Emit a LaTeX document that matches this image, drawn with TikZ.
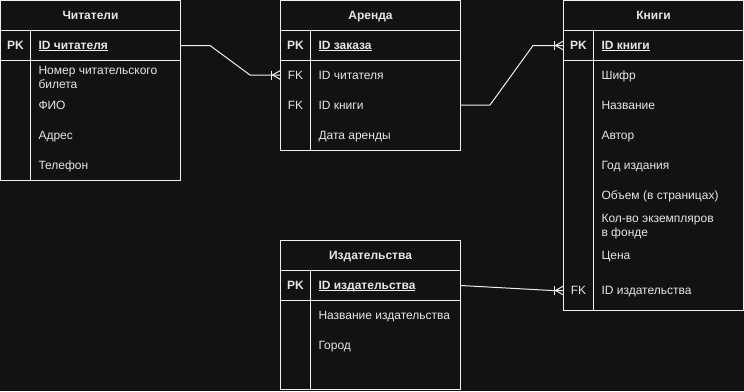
\documentclass[tikz,border=0pt]{standalone}
\usepackage{fontspec}
\setmainfont{Liberation Sans}
\definecolor{bg}{HTML}{121212}
\definecolor{ln}{HTML}{F0F0F0}
\definecolor{tx}{HTML}{E6E6E6}
\newcommand\erfont{\fontsize{12}{14}\selectfont}
\begin{document}
\begin{tikzpicture}[x=1pt,y=-1pt,
  every node/.style={inner sep=0pt, outer sep=0pt, text=tx, font=\erfont},
  box/.style={draw=ln, line width=1pt, rectangle, minimum width=180pt},
  hdr/.style={box, minimum height=30pt, font=\erfont\bfseries, text height=8.6pt, text depth=0pt},
  keyrow/.style={box, minimum height=30pt},
  slot/.style={rectangle, minimum width=180pt, minimum height=30pt},
  lbl/.style={anchor=west, text height=8.6pt, text depth=0pt},
  pklbl/.style={lbl, font=\erfont\bfseries},
  % two-line fields: the base anchor sits on the last line's baseline
  multi/.style={anchor=base west, align=left},
  keytag/.style={text height=8.6pt, text depth=0pt},
  pktag/.style={keytag, font=\erfont\bfseries},
  sep/.style={draw=ln, line width=1pt},
  conn/.style={draw=ln, line width=1pt},
  uline/.style={draw=ln, line width=0.9pt},
  crowmany/.pic={
    \draw[conn] (-9,-4.5) -- (-9,4.5);
    \draw[conn] (0,-4.5) -- (-8,0) -- (0,4.5);
  }
]
\fill[bg] (0,0) rectangle (744,391);
\useasboundingbox (0,0) rectangle (744,391);

% ---------- Читатели ----------
\node[hdr] (rd) at (90.5,15.5) {Читатели};
\node[keyrow] (rd-pk) at (90.5,45.5) {};
\node[box, minimum height=120pt] (rd-body) at (90.5,120.5) {};
\draw[sep] ([xshift=30pt]rd-pk.north west) -- ([xshift=30pt]rd-body.south west);
\node[pktag] (rd-k) at (15.5,45) {PK};
\node[pklbl] (rd-id) at (38.5,45) {ID читателя};
\draw[uline] ([yshift=-1.5pt]rd-id.base west) -- ([yshift=-1.5pt]rd-id.base east);
\node[multi] (rd-f1) at (38.5,88.3) {Номер читательского\\билета};
\node[lbl] (rd-f2) at (38.5,105) {ФИО};
\node[lbl] (rd-f3) at (38.5,135) {Адрес};
\node[lbl] (rd-f4) at (38.5,165.5) {Телефон};

% ---------- Аренда ----------
\node[hdr] (ar) at (370.5,15.5) {Аренда};
\node[keyrow] (ar-pk) at (370.5,45.5) {};
\node[box, minimum height=90pt] (ar-body) at (370.5,105.5) {};
\draw[sep] ([xshift=30pt]ar-pk.north west) -- ([xshift=30pt]ar-body.south west);
\node[slot] (ar-r1) at (370.5,75) {};
\node[slot] (ar-r2) at (370.5,105) {};
\node[pktag] (ar-k) at (295.5,45) {PK};
\node[pklbl] (ar-id) at (318.5,45) {ID заказа};
\draw[uline] ([yshift=-1.5pt]ar-id.base west) -- ([yshift=-1.5pt]ar-id.base east);
\node[keytag] (ar-k1) at (295.5,75) {FK};
\node[lbl] (ar-f1) at (318.5,75) {ID читателя};
\node[keytag] (ar-k2) at (295.5,105) {FK};
\node[lbl] (ar-f2) at (318.5,105) {ID книги};
\node[lbl] (ar-f3) at (318.5,135) {Дата аренды};

% ---------- Книги ----------
\node[hdr] (bk) at (653.5,15.5) {Книги};
\node[keyrow] (bk-pk) at (653.5,45.5) {};
\node[box, minimum height=250pt] (bk-body) at (653.5,185.5) {};
\draw[sep] ([xshift=30pt]bk-pk.north west) -- ([xshift=30pt]bk-body.south west);
\node[slot] (bk-r8) at (653.5,290.5) {};
\node[pktag] (bk-k) at (578.5,45) {PK};
\node[pklbl] (bk-id) at (601.5,45) {ID книги};
\draw[uline] ([yshift=-1.5pt]bk-id.base west) -- ([yshift=-1.5pt]bk-id.base east);
\node[lbl] (bk-f1) at (601.5,75) {Шифр};
\node[lbl] (bk-f2) at (601.5,105) {Название};
\node[lbl] (bk-f3) at (601.5,135) {Автор};
\node[lbl] (bk-f4) at (601.5,165.5) {Год издания};
\node[lbl] (bk-f5) at (601.5,195.5) {Объем (в страницах)};
\node[multi] (bk-f6) at (601.5,236.6) {Кол-во экземпляров\\в фонде};
\node[lbl] (bk-f7) at (601.5,255.5) {Цена};
\node[keytag] (bk-k8) at (578.5,290.5) {FK};
\node[lbl] (bk-f8) at (601.5,290.5) {ID издательства};

% ---------- Издательства ----------
\node[hdr] (pb) at (370.5,255.5) {Издательства};
\node[keyrow] (pb-pk) at (370.5,285.5) {};
\node[box, minimum height=89pt] (pb-body) at (370.5,345) {};
\draw[sep] ([xshift=30pt]pb-pk.north west) -- ([xshift=30pt]pb-body.south west);
\node[pktag] (pb-k) at (295.5,285) {PK};
\node[pklbl] (pb-id) at (318.5,285) {ID издательства};
\draw[uline] ([yshift=-1.5pt]pb-id.base west) -- ([yshift=-1.5pt]pb-id.base east);
\node[lbl] (pb-f1) at (318.5,315) {Название издательства};
\node[lbl] (pb-f2) at (318.5,345) {Город};

% ---------- связи ----------
\draw[conn] (rd-pk.east) -- (210,45.5) -- (250,75) -- (ar-r1.west);
\pic at (ar-r1.west) {crowmany};
\draw[conn] (ar-r2.east) -- (490,105) -- (533,45.5) -- (bk-pk.west);
\pic at (bk-pk.west) {crowmany};
\draw[conn] (pb-pk.east) -- (552,290.5) -- (bk-r8.west);
\pic at (bk-r8.west) {crowmany};
\end{tikzpicture}
\end{document}
